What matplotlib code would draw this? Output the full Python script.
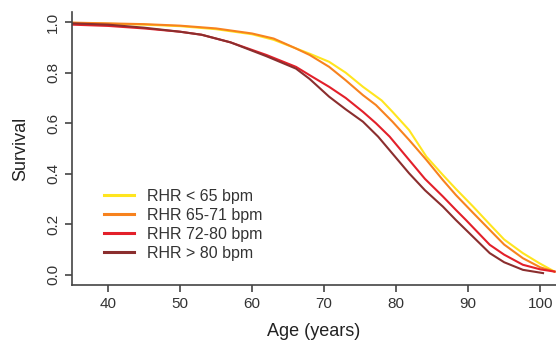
import matplotlib
matplotlib.use("Agg")
import matplotlib.pyplot as plt

plt.rcParams['font.family'] = ['Liberation Sans', 'DejaVu Sans']

# survival curves (age in years, survival fraction)
age_lt65 = [35, 45, 50, 55, 60, 63, 66, 68, 70.7, 73, 75.4, 78, 79.5, 81.8, 84.2, 86.5, 88.3, 90.7,
            93, 95, 97.6, 99.9, 102]
surv_lt65 = [0.997, 0.99, 0.984, 0.972, 0.952, 0.93, 0.897, 0.875, 0.843, 0.80, 0.744, 0.69, 0.645,
             0.573, 0.468, 0.395, 0.34, 0.27, 0.2, 0.14, 0.086, 0.046, 0.013]

age_65_71 = [35, 45, 50, 55, 60, 63, 66, 68, 70.7, 73, 75.4, 77.2, 79.5, 81.8, 84.2, 86.5, 88.3, 90.7,
             93, 95, 97.6, 100, 102]
surv_65_71 = [0.998, 0.992, 0.986, 0.975, 0.955, 0.935, 0.897, 0.87, 0.823, 0.77, 0.711, 0.672, 0.606,
              0.534, 0.455, 0.375, 0.316, 0.245, 0.178, 0.12, 0.066, 0.03, 0.013]

age_72_80 = [35, 40, 45, 50, 53, 57, 62, 66.1, 68, 70.7, 73, 75.4, 77.2, 79.1, 81.8, 84, 86.5, 88.3,
             89.7, 93, 95, 97.6, 100, 102]
surv_72_80 = [0.99, 0.985, 0.975, 0.962, 0.95, 0.92, 0.87, 0.823, 0.79, 0.744, 0.70, 0.645, 0.60, 0.547,
              0.455, 0.38, 0.31, 0.257, 0.217, 0.119, 0.08, 0.04, 0.022, 0.013]

age_gt80 = [35, 40, 45, 50, 53, 57, 62, 66.1, 68, 70.7, 73, 75.4, 77.5, 81.8, 84, 86.5, 88.3, 93,
            95, 97.6, 100.4]
surv_gt80 = [0.995, 0.99, 0.978, 0.962, 0.95, 0.92, 0.865, 0.816, 0.775, 0.705, 0.655, 0.606, 0.547,
             0.402, 0.335, 0.27, 0.217, 0.086, 0.05, 0.02, 0.007]

labels = ['RHR < 65 bpm', 'RHR 65-71 bpm', 'RHR 72-80 bpm', 'RHR > 80 bpm']
colors = ['#FFE51F', '#F7821E', '#E3202A', '#8B2E2E']

fig = plt.figure(figsize=(5.56, 3.47), dpi=100)
ax = fig.add_axes([0.1295, 0.1787, 0.8705, 0.7867])

series = [(age_lt65, surv_lt65), (age_65_71, surv_65_71), (age_72_80, surv_72_80), (age_gt80, surv_gt80)]
for (x, y), lab, c in zip(series, labels, colors):
    ax.plot(x, y, color=c, lw=1.5, label=lab)

ax.set_xlim(35, 102.2)
ax.set_ylim(-0.04, 1.04)
ax.set_xticks([40, 50, 60, 70, 80, 90, 100])
ax.set_yticks([0.0, 0.2, 0.4, 0.6, 0.8, 1.0])
ax.set_yticklabels(['0.0', '0.2', '0.4', '0.6', '0.8', '1.0'], rotation=90, va='center')

for s in ['top', 'right']:
    ax.spines[s].set_visible(False)
for s in ['left', 'bottom']:
    ax.spines[s].set_color('#444444')
    ax.spines[s].set_linewidth(1.2)
ax.tick_params(colors='#444444', labelcolor='#333333', labelsize=11, length=5, width=1.2)

ax.set_xlabel('Age (years)', fontsize=13, color='#222222', labelpad=9)
ax.set_ylabel('Survival', fontsize=13, color='#222222', labelpad=12)

leg = ax.legend(loc='lower left', bbox_to_anchor=(0.036, 0.035), frameon=False, fontsize=11.5,
                handlelength=1.9, handletextpad=0.8, labelspacing=0.25, labelcolor='#333333')
for h in leg.get_lines():
    h.set_linewidth(2.2)

fig.savefig('out.png', dpi=100)
